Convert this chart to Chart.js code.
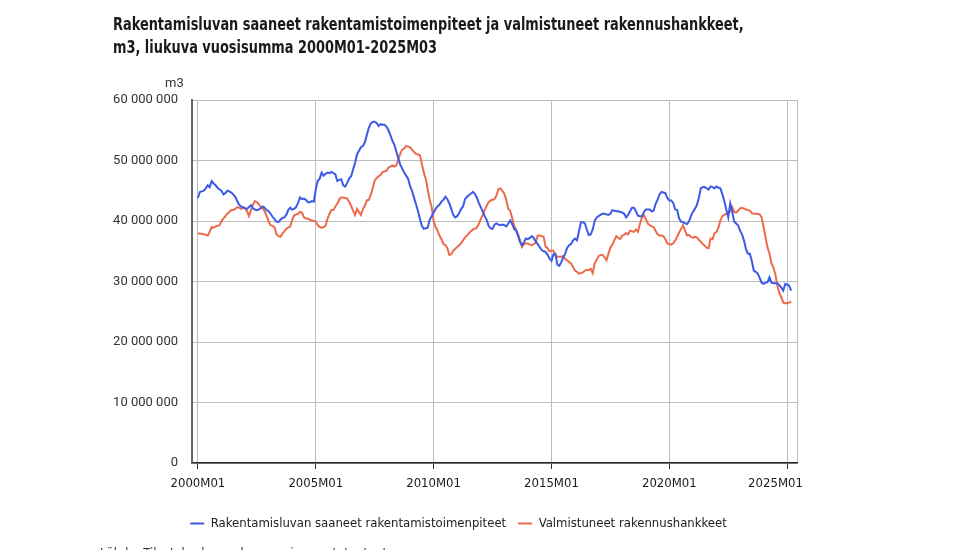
<!DOCTYPE html>
<html lang="fi">
<head>
<meta charset="utf-8">
<script src="https://cdn.jsdelivr.net/npm/chart.js@4.4.1/dist/chart.umd.min.js"></script>
<style>
  body { margin: 0; background: #fff; }
  #wrap { position: relative; width: 980px; height: 550px; overflow: hidden; }
  #chart { position: absolute; left: 0; top: 0; }
  .narrow { font-family: 'DejaVu Sans Condensed', 'Liberation Sans Narrow', Roboto, sans-serif; color: #1a1a1a; }
  #title { position: absolute; left: 113px; top: 13px; font-size: 17px; line-height: 23px; white-space: nowrap;
           font-weight: bold; transform: scaleX(0.845); transform-origin: 0 0; }
  #unit { position: absolute; left: 165px; top: 75px; font: 13px Roboto, sans-serif; color: #333; }
  #source { position: absolute; left: 100px; top: 545px; font-size: 13px; color: #333; }
</style>
</head>
<body>
<div id="wrap">
  <canvas id="chart" width="980" height="550"></canvas>
  <div id="title" class="narrow">Rakentamisluvan saaneet rakentamistoimenpiteet ja valmistuneet rakennushankkeet,<br>m3, liukuva vuosisumma 2000M01-2025M03</div>
  <div id="unit">m3</div>
  <div id="source" class="narrow">Lähde: Tilastokeskus, rakennus- ja asuntotuotanto</div>
</div>
<script>
// liukuva vuosisumma, milj. m3, 2000M01 - 2025M03
var luvat = [
  43.8, 44.8, 44.9, 45.0, 45.4, 45.9, 45.6, 46.6, 46.2, 45.9, 45.5, 45.2,
  45.0, 44.4, 44.6, 45.0, 44.9, 44.7, 44.4, 44.0, 43.3, 42.7, 42.4, 42.2,
  42.1, 42.0, 42.3, 42.6, 42.1, 41.9, 41.8, 41.9, 42.1, 42.4, 42.2, 41.8,
  41.6, 41.2, 40.7, 40.3, 39.9, 39.8, 40.2, 40.5, 40.6, 41.0, 41.8, 42.2,
  41.9, 42.0, 42.3, 43.0, 43.9, 43.6, 43.7, 43.5, 43.1, 43.1, 43.3, 43.2,
  45.2, 46.6, 47.0, 48.0, 47.5, 47.8, 48.0, 47.9, 48.1, 47.9, 47.7, 46.6,
  46.8, 46.9, 45.9, 45.7, 46.3, 47.0, 47.4, 48.5, 49.6, 51.0, 51.6, 52.2,
  52.4, 53.0, 54.2, 55.4, 56.1, 56.4, 56.4, 56.2, 55.7, 56.0, 55.9, 55.9,
  55.6, 55.0, 54.2, 53.3, 52.6, 51.5, 50.4, 49.3, 48.7, 48.0, 47.5, 47.0,
  45.8, 45.0, 43.9, 42.8, 41.7, 40.4, 39.2, 38.7, 38.8, 38.9, 40.2, 40.8,
  41.4, 42.0, 42.4, 42.7, 43.2, 43.5, 44.0, 43.6, 42.9, 42.0, 41.0, 40.6,
  40.8, 41.3, 42.0, 42.4, 43.6, 44.0, 44.3, 44.5, 44.8, 44.5, 43.9, 43.0,
  42.3, 41.6, 40.8, 40.2, 39.2, 38.8, 38.7, 39.4, 39.6, 39.4, 39.3, 39.4,
  39.3, 39.1, 39.6, 40.1, 39.5, 38.7, 38.4, 37.6, 36.5, 36.0, 36.5, 37.1,
  37.0, 37.2, 37.5, 37.2, 36.6, 36.2, 35.7, 35.2, 35.0, 34.9, 34.4, 33.8,
  33.4, 34.5, 34.6, 32.8, 32.6, 33.2, 34.0, 34.6, 35.6, 36.0, 36.2, 36.8,
  37.1, 36.8, 38.3, 39.8, 39.8, 39.6, 38.6, 37.7, 37.8, 38.6, 40.0, 40.6,
  40.8, 41.0, 41.2, 41.2, 41.1, 41.0, 41.2, 41.8, 41.7, 41.6, 41.6, 41.5,
  41.4, 41.2, 40.6, 41.0, 41.6, 42.2, 42.2, 41.6, 40.9, 40.8, 40.8, 41.4,
  41.9, 41.9, 41.9, 41.6, 41.7, 42.8, 43.5, 44.4, 44.8, 44.7, 44.6, 43.8,
  43.4, 43.4, 43.0, 41.9, 41.8, 40.4, 39.9, 39.8, 39.6, 39.5, 39.9, 40.8,
  41.5, 42.0, 42.6, 43.8, 45.4, 45.6, 45.6, 45.4, 45.2, 45.7, 45.6, 45.4,
  45.7, 45.5, 45.4, 44.4, 43.3, 41.9, 40.6, 42.9, 41.6, 39.9, 39.6, 39.3,
  38.4, 37.8, 36.8, 35.4, 34.6, 34.6, 33.4, 31.8, 31.6, 31.3, 30.6, 29.8,
  29.6, 29.8, 29.9, 30.7, 29.8, 29.7, 29.7, 29.7, 29.4, 29.0, 28.5, 29.6,
  29.5, 29.3, 28.5
];

var valmistuneet = [
  38.0, 37.9, 37.9, 37.8, 37.7, 37.6, 38.2, 39.0, 38.9, 39.1, 39.2, 39.3,
  40.0, 40.4, 40.8, 41.2, 41.5, 41.8, 41.8, 42.0, 42.3, 42.2, 42.0, 42.3,
  42.1, 41.6, 40.8, 41.8, 42.7, 43.3, 43.1, 42.8, 42.3, 42.1, 41.6, 40.8,
  40.0, 39.3, 39.2, 39.0, 37.8, 37.5, 37.4, 37.9, 38.3, 38.7, 38.9, 39.1,
  40.2, 40.9, 41.1, 41.2, 41.5, 41.4, 40.6, 40.4, 40.4, 40.2, 40.1, 40.0,
  39.9, 39.3, 39.0, 38.9, 39.0, 39.2, 40.4, 41.2, 41.8, 41.8, 42.4, 42.9,
  43.6, 43.9, 43.9, 43.8, 43.7, 43.2, 42.5, 41.7, 41.0, 42.0, 41.5, 41.0,
  42.0, 42.5, 43.4, 43.5, 44.3, 45.4, 46.7, 47.1, 47.4, 47.6, 48.1, 48.2,
  48.3, 48.8, 49.0, 49.2, 49.0, 49.2, 50.2, 51.1, 51.8, 52.0, 52.4, 52.3,
  52.2, 51.8, 51.4, 51.1, 51.0, 50.9, 49.5, 48.0, 47.0, 45.2, 43.5, 42.3,
  40.0, 39.0, 38.4, 37.6, 37.0, 36.2, 36.0, 35.5, 34.4, 34.5, 35.1, 35.4,
  35.7, 36.0, 36.3, 36.8, 37.3, 37.6, 38.0, 38.3, 38.6, 38.7, 38.9, 39.5,
  40.3, 41.0, 41.8, 42.5, 43.1, 43.4, 43.5, 43.6, 44.2, 45.3, 45.4, 45.0,
  44.5, 43.5, 42.0, 41.7, 40.5, 39.2, 38.6, 37.8, 36.8, 35.7, 36.2, 36.3,
  36.3, 36.1, 36.0, 36.2, 36.4, 37.6, 37.6, 37.5, 37.4, 35.8, 35.5, 35.0,
  35.1, 35.1, 34.3, 34.1, 34.1, 34.1, 34.2, 33.7, 33.5, 33.2, 33.0, 32.4,
  31.8, 31.6, 31.3, 31.4, 31.5, 31.8, 31.9, 31.9, 32.1, 31.4, 33.0, 33.6,
  34.2, 34.4, 34.4, 34.0, 33.5, 34.6, 35.6, 36.1, 36.8, 37.5, 37.2, 37.0,
  37.6, 37.7, 38.0, 37.8, 38.4, 38.3, 38.2, 38.6, 38.2, 39.5, 40.5, 41.0,
  40.4, 39.6, 39.3, 39.1, 39.0, 38.4, 37.8, 37.6, 37.6, 37.5, 37.0, 36.3,
  36.2, 36.1, 36.3, 36.8, 37.4, 38.1, 38.7, 39.3, 38.4, 37.6, 37.7, 37.4,
  37.2, 37.4, 37.3, 36.9, 36.6, 36.2, 35.9, 35.6, 35.5, 37.1, 37.0, 38.0,
  38.2, 38.9, 40.1, 40.8, 41.0, 41.2, 41.2, 41.6, 42.3, 41.5, 41.4, 41.7,
  42.1, 42.2, 42.1, 41.9, 41.8, 41.7, 41.3, 41.2, 41.2, 41.2, 41.1, 40.6,
  39.0, 37.3, 35.6, 34.6, 33.0, 32.3, 31.2, 29.3, 28.1, 27.4, 26.5, 26.4,
  26.4, 26.5, 26.7
];

var tickMonths = [0, 60, 120, 180, 240, 300];
var tickLabels = ["2000M01", "2005M01", "2010M01", "2015M01", "2020M01", "2025M01\u2002\u2002\u2002\u2002"];
var yTicks = [0, 10, 20, 30, 40, 50, 60];

var seriesNames = ["Rakentamisluvan saaneet rakentamistoimenpiteet", "Valmistuneet rakennushankkeet"];

var narrow = "'DejaVu Sans Condensed', 'Liberation Sans Narrow', Roboto, sans-serif";
var xMin = -3, xMax = 305;

function toPoints(arr) {
    return arr.map(function (v, i) { return { x: i, y: v }; });
}

function fmt(v) {
    return String(Math.round(v * 1000000)).replace(/\B(?=(\d{3})+(?!\d))/g, " ");
}

// the original legend sits a bit right of the canvas centre
var legendShift = {
    id: "legendShift",
    afterLayout: function (chart) {
        if (chart.legend) {
            chart.legend.left += 60;
            chart.legend.right += 60;
        }
    },
};

var ctx = document.getElementById("chart").getContext("2d");
var chart = new Chart(ctx, {
    type: "line",
    data: {
        datasets: [{
            label: seriesNames[0],
            data: toPoints(luvat),
            borderColor: "#3c5ae6",
            backgroundColor: "#3c5ae6",
            borderWidth: 2,
            pointRadius: 0,
        }, {
            label: seriesNames[1],
            data: toPoints(valmistuneet),
            borderColor: "#ee6a4c",
            backgroundColor: "#ee6a4c",
            borderWidth: 2,
            pointRadius: 0,
        }],
    },
    options: {
        responsive: false,
        animation: false,
        layout: { padding: { left: 0, top: 100, right: 183, bottom: 10 } },
        plugins: {
            tooltip: { enabled: false },
            legend: {
                position: "bottom",
                labels: {
                    usePointStyle: true,
                    pointStyle: "line",
                    pointStyleWidth: 14,
                    padding: 12,
                    color: "#222",
                    font: { family: narrow, size: 13 },
                },
            },
        },
        scales: {
            x: {
                type: "linear",
                min: xMin,
                max: xMax,
                afterBuildTicks: function (scale) {
                    scale.ticks = tickMonths.concat([xMax]).map(function (v) { return { value: v }; });
                },
                afterFit: function (scale) { scale.height = 42; },
                ticks: {
                    autoSkip: false,
                    maxRotation: 0,
                    padding: 7,
                    color: "#1a1a1a",
                    font: { family: narrow, size: 13 },
                    callback: function (value) {
                        var k = tickMonths.indexOf(value);
                        return k >= 0 ? tickLabels[k] : "";
                    },
                },
                grid: {
                    color: "#bdbdbd",
                    tickLength: 6,
                    tickColor: function (c) { return c.tick && c.tick.value === xMax ? "rgba(0,0,0,0)" : "#333"; },
                },
                border: { color: "#222", width: 1.5 },
            },
            y: {
                min: 0,
                max: 60,
                afterBuildTicks: function (scale) {
                    scale.ticks = yTicks.map(function (v) { return { value: v }; });
                },
                afterFit: function (scale) { scale.width = 192; },
                ticks: {
                    padding: 14,
                    color: "#333",
                    font: { family: "Roboto, sans-serif", size: 13 },
                    callback: function (value) { return fmt(value); },
                },
                grid: { color: "#bdbdbd", drawTicks: false },
                border: { color: "#666", width: 2 },
            },
        },
    },
    plugins: [legendShift],
});
</script>
</body>
</html>
